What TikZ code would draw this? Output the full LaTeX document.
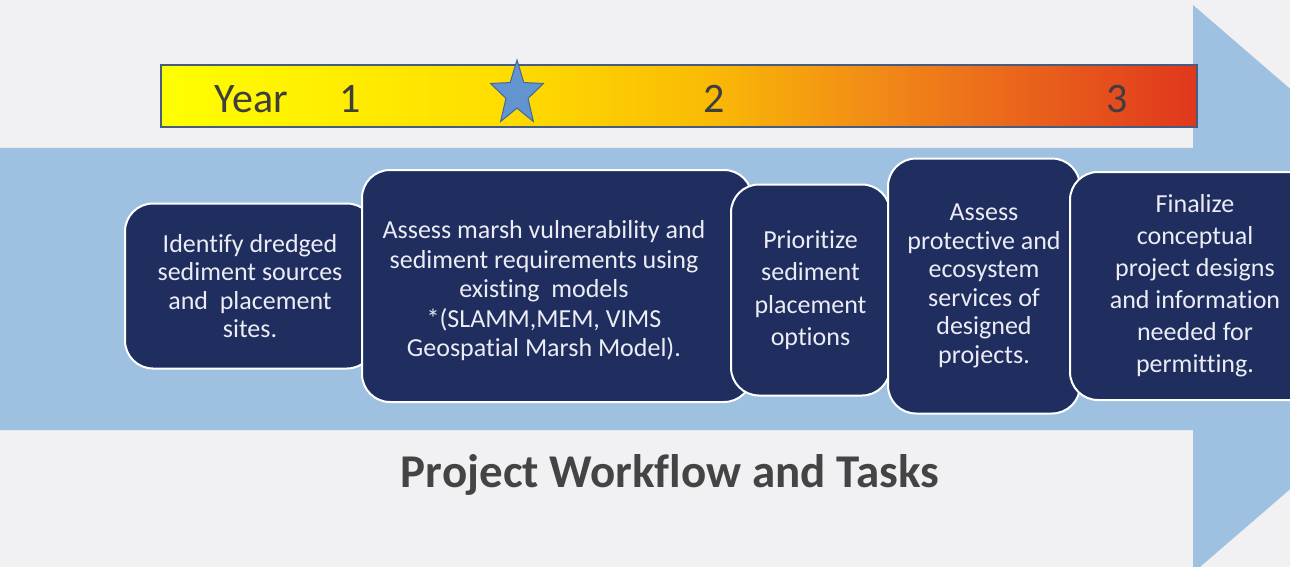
\documentclass[tikz,border=0pt]{standalone}
\usepackage{fontspec}
\setmainfont{Carlito}[Ligatures=NoCommon]
\usepackage{tikz}
\usetikzlibrary{shapes.geometric}
\definecolor{paper gray}{RGB}{241,241,243}
\definecolor{band blue}{RGB}{158,193,226}
\definecolor{task navy}{RGB}{31,46,94}
\definecolor{task white}{RGB}{236,236,244}
\definecolor{bar edge}{RGB}{72,92,125}
\definecolor{star blue}{RGB}{98,148,208}
\definecolor{star edge}{RGB}{66,104,160}
\definecolor{year gray}{RGB}{62,62,62}
\definecolor{title gray}{RGB}{68,68,68}
\definecolor{year yellow}{RGB}{255,255,0}
\definecolor{year gold}{RGB}{255,222,0}
\definecolor{year amber}{RGB}{250,188,5}
\definecolor{year orange}{RGB}{240,130,25}
\definecolor{year red}{RGB}{224,55,30}
\pgfdeclarehorizontalshading{yearshade}{100bp}{color(0bp)=(year yellow); color(25bp)=(year yellow); color(41bp)=(year gold); color(51bp)=(year amber); color(61bp)=(year orange); color(75bp)=(year red); color(100bp)=(year red)}

\begin{document}
\begin{tikzpicture}[x=1pt, y=-1pt,
		task/.style = {draw=white, line width=2pt, fill=task navy, rounded corners=28pt,
			text=task white, align=center, inner sep=0pt,
			font=\fontsize{26}{#1}\selectfont},
		task/.default = 28.5,
		tasktext/.style = {text=task white, align=center, inner sep=0pt,
			font=\fontsize{26}{29.5}\selectfont},
		year/.style = {anchor=base, text=year gray, inner sep=0pt,
			font=\fontsize{42}{50}\selectfont}]
			% paper
			\clip (0, 0) rectangle (1290, 567);
			\fill[paper gray] (0, 0) rectangle (1290, 567);
			% big arrow
			\fill[band blue] (0, 148) -- (1193, 148) -- (1193, 5) -- (1522, 289)
				-- (1193, 573) -- (1193, 430) -- (0, 430) -- cycle;
			% time bar
			\node[draw=bar edge, line width=2pt, shading=yearshade,
				minimum width=1036, minimum height=62, inner sep=0pt] (bar) at (679, 96) {};
			\node[year] (year) at (251.5, 113) {Year};
			\node[year] (one) at (350, 113) {1};
			\node[year] (two) at (714, 113) {2};
			\node[year] (three) at (1117, 113) {3};
			\begin{scope}[shift={(517, 94)}, xscale=0.82]
				\node[star, star points=5, star point ratio=2.4, minimum size=68,
					inner sep=0pt, fill=star blue, draw=star edge, line width=1pt,
					transform shape] (star) at (0, 0) {};
			\end{scope}
			% tasks
			\node[task, minimum width=250, minimum height=165] (identify) at (250, 286)
				{Identify dredged\\sediment sources\\and\ \ placement\\sites.};
			\node[task, minimum width=390, minimum height=232] (assess) at (557, 286) {};
			\node[tasktext] (assess text) at (544, 291)
				{Assess marsh vulnerability and\\sediment requirements using\\existing\ \ models\\
				*(SLAMM,MEM, VIMS\\Geospatial Marsh Model).};
			\node[task=32.5, minimum width=159, minimum height=211] (prioritize) at (810.5, 290)
				{Prioritize\\sediment\\placement\\options};
			\node[task, minimum width=192, minimum height=255] (services) at (984, 286)
				{Assess\\protective and\\ecosystem\\services of\\designed\\projects.};
			\node[task=32, minimum width=250, minimum height=228] (finalize) at (1195, 286)
				{Finalize\\conceptual\\project designs\\and information\\needed for\\permitting.};
			% caption
			\node[anchor=base, text=title gray, inner sep=0pt,
				font=\bfseries\fontsize{47}{56}\selectfont] (title) at (670, 487)
				{Project Workflow and Tasks};
		\end{tikzpicture}
\end{document}
